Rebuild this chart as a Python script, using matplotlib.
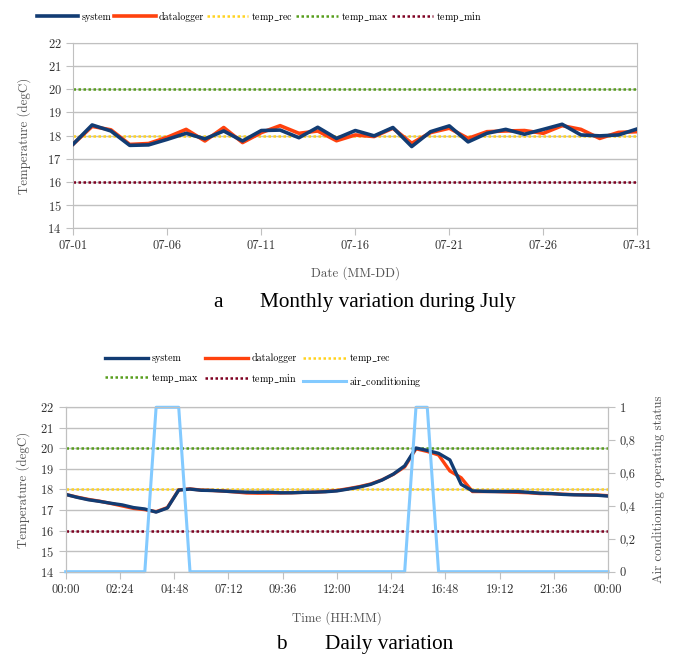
import numpy as np
import matplotlib
matplotlib.use("Agg")
import matplotlib.pyplot as plt
from matplotlib.ticker import FuncFormatter

plt.rcParams['font.family'] = ['cmr10', 'DejaVu Serif']
plt.rcParams['mathtext.fontset'] = 'cm'
plt.rcParams['axes.formatter.use_mathtext'] = True

# monthly data (July)
days = list(range(1, 32))
month_system = [17.64, 18.46, 18.2, 17.58, 17.6, 17.84, 18.1, 17.86, 18.2, 17.77,
                18.22, 18.24, 17.91, 18.36, 17.88, 18.22, 17.99, 18.35, 17.53, 18.17,
                18.42, 17.73, 18.1, 18.27, 18.06, 18.27, 18.49, 18.03, 17.99, 18.03, 18.29]
month_logger = [17.64, 18.4, 18.25, 17.62, 17.66, 17.93, 18.27, 17.77, 18.35, 17.7,
                18.13, 18.43, 18.1, 18.2, 17.78, 18.03, 17.96, 18.32, 17.67, 18.13,
                18.32, 17.88, 18.17, 18.2, 18.22, 18.1, 18.43, 18.27, 17.88, 18.14, 18.17]
day_ticks = [1, 6, 11, 16, 21, 26, 31]
day_labels = ['07-01', '07-06', '07-11', '07-16', '07-21', '07-26', '07-31']

# daily data (30 min samples)
hours = [h * 0.5 for h in range(49)]
day_system = [17.76, 17.62, 17.5, 17.42, 17.33, 17.25, 17.12, 17.05, 16.9, 17.1,
              17.97, 18.02, 17.96, 17.95, 17.92, 17.89, 17.87, 17.86, 17.87, 17.84,
              17.84, 17.86, 17.87, 17.89, 17.93, 18.02, 18.12, 18.25, 18.46, 18.75,
              19.15, 20.02, 19.9, 19.76, 19.44, 18.25, 17.93, 17.91, 17.9, 17.9,
              17.9, 17.86, 17.82, 17.8, 17.76, 17.74, 17.73, 17.72, 17.68]
day_logger = [17.76, 17.63, 17.52, 17.43, 17.32, 17.2, 17.08, 17.02, 16.92, 17.12,
              17.98, 18.03, 17.97, 17.95, 17.92, 17.88, 17.83, 17.82, 17.82, 17.83,
              17.84, 17.86, 17.87, 17.9, 17.95, 18.04, 18.14, 18.27, 18.47, 18.74,
              19.1, 19.98, 19.85, 19.68, 18.9, 18.57, 17.9, 17.9, 17.9, 17.88,
              17.86, 17.84, 17.8, 17.8, 17.77, 17.75, 17.74, 17.73, 17.7]
air_cond = [0, 0, 0, 0, 0, 0, 0, 0, 1, 1, 1, 0, 0, 0, 0, 0, 0, 0, 0, 0,
            0, 0, 0, 0, 0, 0, 0, 0, 0, 0, 0, 1, 1, 0, 0, 0, 0, 0, 0, 0,
            0, 0, 0, 0, 0, 0, 0, 0, 0]
time_ticks = [2.4 * i for i in range(11)]

temp_rec, temp_max, temp_min = 18, 20, 16

c_sys = '#123c73'
c_log = '#ff420e'
c_rec = '#ffd320'
c_max = '#579d1c'
c_min = '#7e0021'
c_ac = '#83caff'
grid_c = '#c0c0c0'

# legend labels with underscores go through mathtext so cm keeps the glyph
lab = {
    'system': 'system',
    'datalogger': 'datalogger',
    'temp_rec': r'$\mathrm{temp\_rec}$',
    'temp_max': r'$\mathrm{temp\_max}$',
    'temp_min': r'$\mathrm{temp\_min}$',
    'air_conditioning': r'$\mathrm{air\_conditioning}$',
}


def style(ax, pad):
    ax.set_ylim(14, 22)
    ax.set_yticks(range(14, 23))
    ax.yaxis.grid(True, color=grid_c, lw=1)
    ax.set_axisbelow(True)
    for s in ax.spines.values():
        s.set_color(grid_c)
    ax.tick_params(colors=grid_c, labelcolor='#333333', labelsize=9, length=5)
    ax.set_ylabel('Temperature (degC)', fontsize=9.3, color='#555555', labelpad=pad)


fig = plt.figure(figsize=(6.79, 6.6), dpi=100)

# top chart
ax1 = fig.add_axes([0.108, 0.654, 0.8306, 0.281])
ax1.plot(days, month_logger, color=c_log, lw=2.6, label='datalogger', zorder=3)
ax1.plot(days, month_system, color=c_sys, lw=2.6, label='system', zorder=4)
ax1.plot([1, 31], [temp_rec] * 2, color=c_rec, lw=1.8, ls=(0, (1, 1)), label='temp_rec')
ax1.plot([1, 31], [temp_max] * 2, color=c_max, lw=1.8, ls=(0, (1, 1)), label='temp_max')
ax1.plot([1, 31], [temp_min] * 2, color=c_min, lw=1.8, ls=(0, (1, 1)), label='temp_min')
ax1.set_xlim(1, 31)
ax1.set_xticks(day_ticks)
ax1.set_xticklabels(day_labels)
style(ax1, 12)
ax1.set_xlabel('Date (MM-DD)', fontsize=9.3, color='#555555', labelpad=10)
h, l = ax1.get_legend_handles_labels()
hd1 = dict(zip(l, h))
top_order = ['system', 'datalogger', 'temp_rec', 'temp_max', 'temp_min']
fig.legend([hd1[k] for k in top_order], [lab[k] for k in top_order], loc='center',
           bbox_to_anchor=(0.382, 0.975), ncol=5, frameon=False,
           fontsize=7.2, handlelength=4.15, handletextpad=0.3, columnspacing=0.3)

fig.text(0.321, 0.542, 'a', family='Liberation Serif', fontsize=15.3, ha='center', va='center')
fig.text(0.383, 0.542, 'Monthly variation during July', family='Liberation Serif',
         fontsize=15.3, ha='left', va='center')

# bottom chart
ax2 = fig.add_axes([0.0968, 0.1338, 0.7987, 0.2491])
ax3 = ax2.twinx()
ax2.plot(hours, day_logger, color=c_log, lw=2.4, label='datalogger', zorder=3)
ax2.plot(hours, day_system, color=c_sys, lw=2.4, label='system', zorder=4)
ax2.plot([0, 24], [temp_rec] * 2, color=c_rec, lw=1.8, ls=(0, (1, 1)), label='temp_rec')
ax2.plot([0, 24], [temp_max] * 2, color=c_max, lw=1.8, ls=(0, (1, 1)), label='temp_max')
ax2.plot([0, 24], [temp_min] * 2, color=c_min, lw=1.8, ls=(0, (1, 1)), label='temp_min')
ax3.plot(hours, air_cond, color=c_ac, lw=2.2, label='air_conditioning', clip_on=False)
ax2.set_xlim(0, 24)
ax2.set_xticks(time_ticks)
ax2.set_xticklabels(['%02d:%02d' % (int(t) % 24, round((t % 1) * 60)) for t in time_ticks])
style(ax2, 7)
ax2.set_xlabel('Time (HH:MM)', fontsize=9.3, color='#555555', labelpad=11)
ax3.set_ylim(0, 1)
ax3.set_yticks([0, 0.2, 0.4, 0.6, 0.8, 1])
ax3.yaxis.set_major_formatter(FuncFormatter(lambda v, p: ('%g' % v).replace('.', ',')))
for s in ax3.spines.values():
    s.set_color(grid_c)
ax3.tick_params(colors=grid_c, labelcolor='#333333', labelsize=9, length=5)
ax3.set_ylabel('Air conditioning operating status', fontsize=9.3, color='#555555', labelpad=12)

h2, l2 = ax2.get_legend_handles_labels()
h3, l3 = ax3.get_legend_handles_labels()
hd = dict(zip(l2 + l3, h2 + h3))
order = ['system', 'datalogger', 'temp_rec', 'temp_max', 'temp_min', 'air_conditioning']
# row-major order for a 3-column legend
col_order = [0, 3, 1, 4, 2, 5]
fig.legend([hd[order[i]] for i in col_order], [lab[order[i]] for i in col_order],
           loc='center', bbox_to_anchor=(0.388, 0.439), ncol=3, frameon=False,
           fontsize=7.2, handlelength=4.3, handletextpad=0.3, columnspacing=0.6,
           labelspacing=0.85)

fig.text(0.414, 0.023, 'b', family='Liberation Serif', fontsize=15.3, ha='center', va='center')
fig.text(0.479, 0.023, 'Daily variation', family='Liberation Serif',
         fontsize=15.3, ha='left', va='center')

fig.savefig('out.png', dpi=100)
